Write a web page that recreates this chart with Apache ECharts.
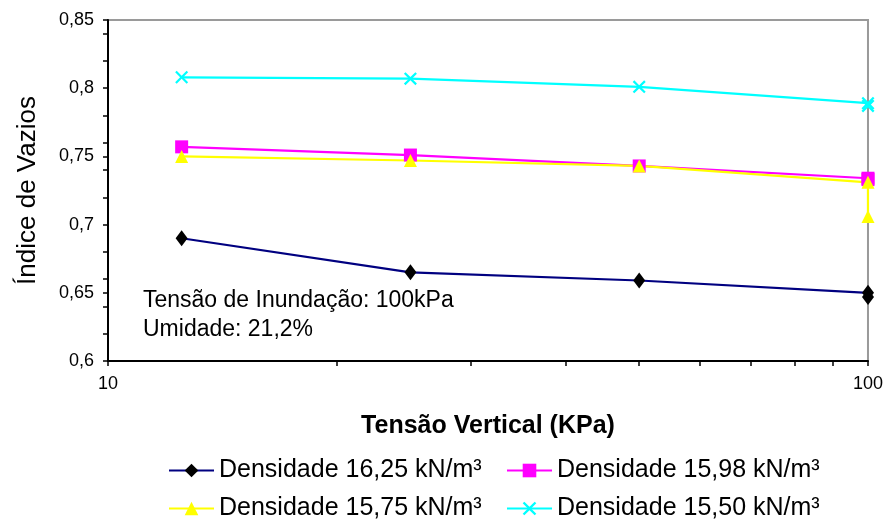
<!DOCTYPE html>
<html>
<head>
<meta charset="utf-8">
<script src="https://cdn.jsdelivr.net/npm/echarts@6/dist/echarts.min.js"></script>
<style>
  html, body { margin: 0; padding: 0; background: #fff; }
  #chart { width: 886px; height: 523px; }
</style>
</head>
<body>
<div id="chart"></div>
<script>
// Vertical stress steps (kPa); the last step is repeated for the flooding reading
const stressKPa = [12.5, 25, 50, 100, 100];

// Void ratio per dry density
const voids1625 = [0.690, 0.665, 0.659, 0.650, 0.647];
const voids1598 = [0.757, 0.751, 0.743, 0.734, 0.733];
const voids1575 = [0.750, 0.747, 0.743, 0.731, 0.706];
const voids1550 = [0.808, 0.807, 0.801, 0.789, 0.787];

const seriesNames = [
  'Densidade 16,25 kN/m³',
  'Densidade 15,98 kN/m³',
  'Densidade 15,75 kN/m³',
  'Densidade 15,50 kN/m³'
];

// Axis ticks
const yMajorTicks = [0.6, 0.65, 0.7, 0.75, 0.8, 0.85];
const yMinorTicks = [0.62, 0.64, 0.66, 0.68, 0.72, 0.74, 0.76, 0.78, 0.82, 0.84];
const xLabelTicks = [10, 100];
const xMinorTicks = [20, 30, 40, 50, 60, 70, 80, 90];

const FONT = '"Liberation Sans", Arial, sans-serif';
const pair = (ys) => ys.map((y, i) => [stressKPa[i], y]);

// Thick filled "x" marker
const xMark = 'path://M0,1.2 L1.2,0 L5,3.8 L8.8,0 L10,1.2 L6.2,5 L10,8.8 L8.8,10 L5,6.2 L1.2,10 L0,8.8 L3.8,5 Z';

const chart = echarts.init(document.getElementById('chart'), null, { renderer: 'canvas' });

const legendCommon = {
  orient: 'horizontal',
  itemWidth: 45,
  itemHeight: 17,
  itemGap: 6,
  padding: 0,
  textStyle: { fontFamily: FONT, fontSize: 25, color: '#000' },
  selectedMode: false
};

chart.setOption({
  animation: false,
  backgroundColor: '#fff',
  grid: {
    left: 108, right: 18, top: 20, bottom: 162,
    show: true, borderColor: '#9a9a9a', borderWidth: 2, backgroundColor: '#fff'
  },
  xAxis: [
    {
      type: 'log', logBase: 10, min: 10, max: 100,
      name: 'Tensão Vertical (KPa)',
      nameLocation: 'middle', nameGap: 53,
      nameTextStyle: { fontFamily: FONT, fontSize: 25, fontWeight: 'bold', color: '#000' },
      axisLine: { show: true, lineStyle: { color: '#000', width: 2 } },
      axisTick: { show: false },
      axisLabel: {
        customValues: xLabelTicks, margin: 14,
        fontFamily: FONT, fontSize: 18, color: '#000'
      },
      splitLine: { show: false }
    },
    {
      // log10 space helper carrying the minor ticks of the log axis
      type: 'value', min: 1, max: 2, position: 'bottom',
      axisLine: { show: false },
      axisLabel: { show: false },
      axisTick: {
        show: true, inside: false, length: 5,
        customValues: xMinorTicks.map(v => Math.log10(v)).concat([1, 2]),
        lineStyle: { color: '#000', width: 1.5 }
      },
      splitLine: { show: false }
    }
  ],
  yAxis: [
    {
      type: 'value', min: 0.6, max: 0.85, interval: 0.05,
      name: 'Índice de Vazios',
      nameLocation: 'middle', nameGap: 67, nameRotate: 90,
      nameTextStyle: { fontFamily: FONT, fontSize: 26, color: '#000' },
      axisLine: { show: true, lineStyle: { color: '#000', width: 2 } },
      axisTick: { show: true, length: 5, customValues: yMajorTicks, lineStyle: { color: '#000', width: 1.5 } },
      axisLabel: {
        customValues: yMajorTicks, margin: 14,
        fontFamily: FONT, fontSize: 18, color: '#000',
        formatter: v => String(Math.round(v * 100) / 100).replace('.', ',')
      },
      splitLine: { show: false }
    },
    {
      type: 'value', min: 0.6, max: 0.85, position: 'left',
      axisLine: { show: false },
      axisLabel: { show: false },
      axisTick: { show: true, length: 5, customValues: yMinorTicks, lineStyle: { color: '#000', width: 1.5 } },
      splitLine: { show: false }
    }
  ],
  legend: [
    Object.assign({ left: 168, top: 458, data: [seriesNames[0]] }, legendCommon),
    Object.assign({ left: 506, top: 458, data: [seriesNames[1]] }, legendCommon),
    Object.assign({ left: 168, top: 496, data: [seriesNames[2]] }, legendCommon),
    Object.assign({ left: 506, top: 496, data: [seriesNames[3]] }, legendCommon)
  ],
  graphic: [
    {
      type: 'text', left: 143, top: 286,
      style: {
        text: 'Tensão de Inundação: 100kPa\nUmidade: 21,2%',
        font: '23px ' + FONT, fill: '#000', lineHeight: 29
      }
    }
  ],
  series: [
    {
      name: seriesNames[0], type: 'line', data: pair(voids1625),
      symbol: 'diamond', symbolSize: [12, 16],
      lineStyle: { color: '#000080', width: 2.2 },
      itemStyle: { color: '#000000' }
    },
    {
      name: seriesNames[1], type: 'line', data: pair(voids1598),
      symbol: 'rect', symbolSize: 13,
      lineStyle: { color: '#ff00ff', width: 2.2 },
      itemStyle: { color: '#ff00ff' }
    },
    {
      name: seriesNames[2], type: 'line', data: pair(voids1575),
      symbol: 'triangle', symbolSize: 13,
      lineStyle: { color: '#ffff00', width: 2.2 },
      itemStyle: { color: '#ffff00' }
    },
    {
      name: seriesNames[3], type: 'line', data: pair(voids1550),
      symbol: xMark, symbolSize: 13,
      lineStyle: { color: '#00ffff', width: 2.2 },
      itemStyle: { color: '#00ffff' }
    }
  ]
});
</script>
</body>
</html>
